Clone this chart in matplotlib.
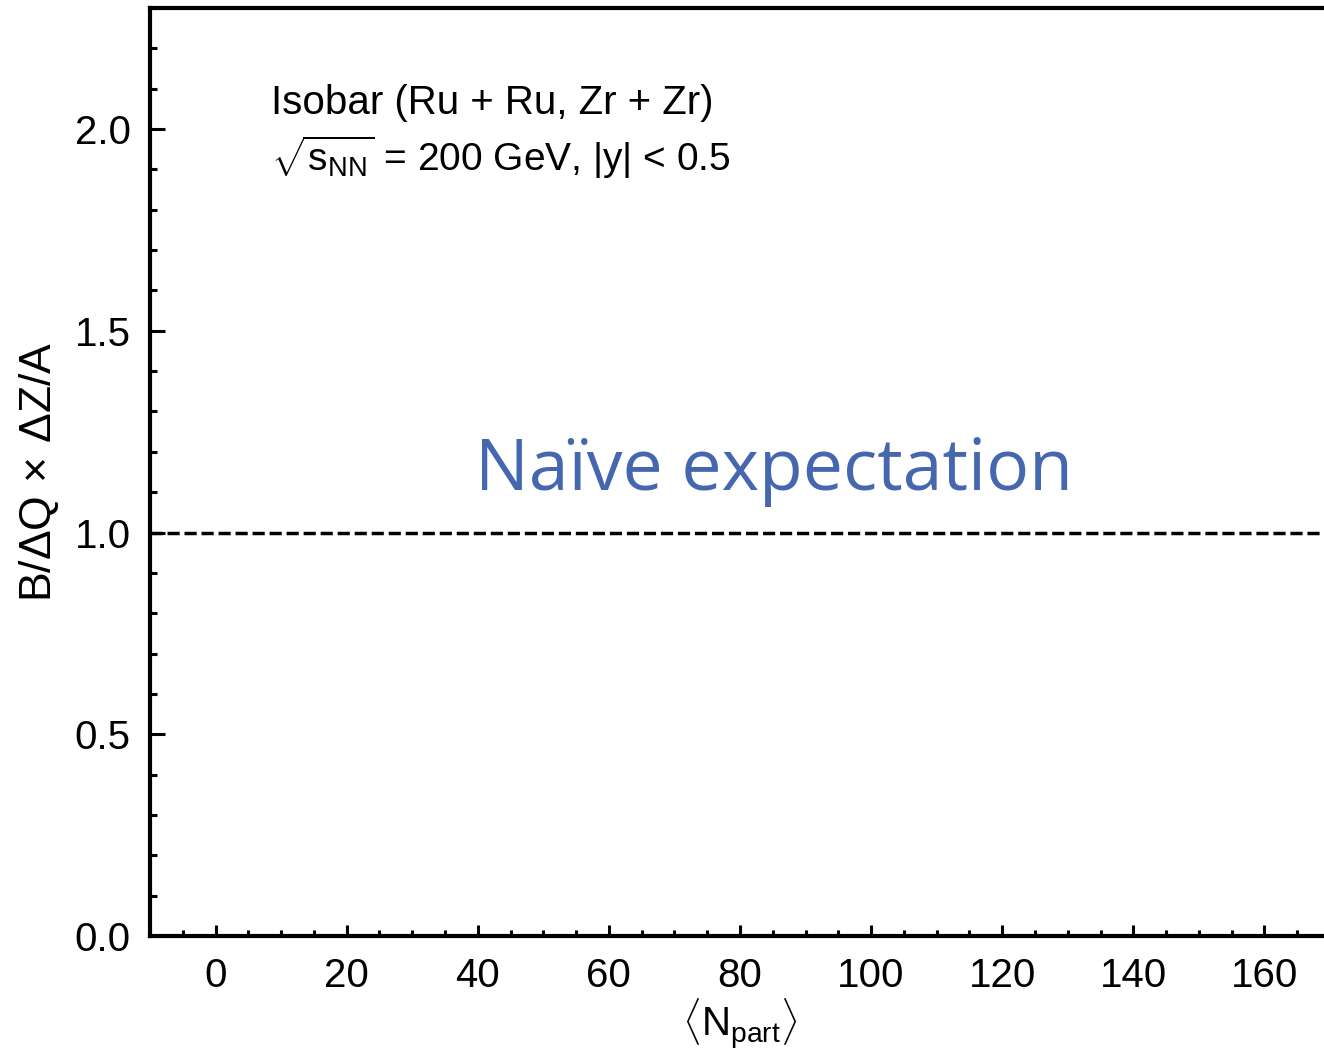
import matplotlib
matplotlib.use("Agg")
import matplotlib.pyplot as plt
from matplotlib.ticker import MultipleLocator

plt.rcParams["font.family"] = ["Liberation Sans", "DejaVu Sans"]
plt.rcParams["mathtext.fontset"] = "custom"
plt.rcParams["mathtext.rm"] = "Liberation Sans"
plt.rcParams["mathtext.it"] = "Liberation Sans:italic"

# axis ranges and the reference level
X_RANGE = [-10, 170]
Y_RANGE = [0.0, 2.3]
NAIVE_LEVEL = 1.0
X_TICKS = [0, 20, 40, 60, 80, 100, 120, 140, 160]
Y_TICKS = [0.0, 0.5, 1.0, 1.5, 2.0]

fig = plt.figure(figsize=(13.24, 10.53), dpi=100)
ax = fig.add_axes([150 / 1324, 117 / 1053, 1180 / 1324, 928 / 1053])

ax.axhline(NAIVE_LEVEL, color="black", lw=2.5, ls=(0, (3.5, 1.4)), zorder=3)

ax.set_xlim(X_RANGE)
ax.set_ylim(Y_RANGE)
ax.set_xticks(X_TICKS)
ax.set_yticks(Y_TICKS)
ax.yaxis.set_major_formatter(plt.FormatStrFormatter("%.1f"))
ax.xaxis.set_minor_locator(MultipleLocator(5))
ax.yaxis.set_minor_locator(MultipleLocator(0.1))

for s in ax.spines.values():
    s.set_linewidth(3.0)
ax.spines["right"].set_visible(False)

ax.tick_params(axis="both", which="both", direction="in", width=2.2,
               labelsize=29)
ax.tick_params(axis="y", which="major", length=11, pad=14)
ax.tick_params(axis="y", which="minor", length=5)
ax.tick_params(axis="x", which="major", length=8, pad=15)
ax.tick_params(axis="x", which="minor", length=4.5)

ax.set_xlabel(r"$\langle\mathrm{N}_{\mathrm{part}}\rangle$", fontsize=29,
              labelpad=1)
ax.set_ylabel(r"B/$\Delta$Q$\,\times\,\Delta$Z/A", fontsize=32, labelpad=10)

ax.text(0.1025, 0.898, "Isobar (Ru + Ru, Zr + Zr)", transform=ax.transAxes,
        fontsize=29, va="center", ha="left")
ax.text(0.1025, 0.839,
        r"$\sqrt{\mathrm{s}_{\mathrm{NN}}}$ = 200 GeV, |y| < 0.5",
        transform=ax.transAxes, fontsize=28, va="center", ha="left")

ax.text(0.275, 0.501, "Naïve expectation", transform=ax.transAxes,
        fontsize=51.5, color="#4467b0", family=["Open Sans", "DejaVu Sans"],
        va="center", ha="left")

fig.savefig("out.png", dpi=100)
